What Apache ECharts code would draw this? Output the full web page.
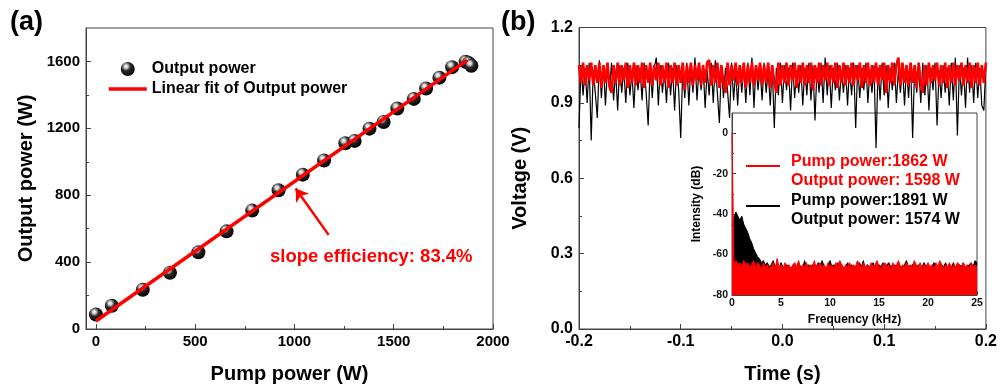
<!DOCTYPE html>
<html>
<head>
<meta charset="utf-8">
<script src="https://cdn.jsdelivr.net/npm/echarts@6/dist/echarts.min.js"></script>
<style>
  html, body { margin: 0; padding: 0; background: #fff; }
  #chart { width: 1000px; height: 389px; }
</style>
</head>
<body>
<div id="chart"></div>
<script>
// (a) output power vs pump power
const pumpPower = [0, 80, 236, 373, 516, 658, 787, 920, 1042, 1149, 1256, 1303, 1378, 1449, 1518, 1601, 1663, 1730, 1794, 1862, 1878, 1891];
const outputPower = [87, 139, 235, 336, 459, 584, 708, 830, 923, 1008, 1111, 1125, 1198, 1238, 1319, 1376, 1438, 1503, 1566, 1598, 1590, 1574];
const fitLine = [[0, 48], [1870, 1608]];
const arrowFrom = [1172, 563];
const arrowTo = [1006, 840];

// (b) voltage trace, one sample every 2 ms from -0.2 s
const timeStart = -0.2;
const timeStep = 0.002;
const voltageBlack = [
  0.80, 1.05, 0.93, 1.04, 0.90, 1.06, 0.75, 1.03, 0.94, 0.84,
  1.07, 0.92, 1.05, 0.89, 1.04, 0.95, 1.06, 0.91, 1.03, 0.87,
  1.05, 0.94, 1.04, 0.90, 1.06, 0.93, 1.02, 0.88, 1.05, 0.95,
  1.04, 0.91, 1.06, 0.94, 0.81, 1.05, 0.92, 1.04, 1.08, 0.89,
  1.05, 0.94, 1.03, 0.90, 1.06, 0.93, 1.04, 0.87, 1.05, 0.95,
  0.76, 1.04, 0.92, 1.06, 0.89, 1.05, 0.94, 1.08, 0.91, 1.04,
  0.95, 1.05, 0.88, 1.03, 0.93, 1.06, 0.90, 1.07, 0.94, 0.82,
  1.05, 0.92, 1.04, 0.95, 0.84, 1.06, 0.91, 1.03, 0.89, 1.05,
  0.94, 1.04, 0.90, 1.06, 0.93, 1.08, 0.88, 1.05, 0.95, 1.04,
  0.91, 1.06, 0.94, 1.03, 0.89, 1.05, 0.80, 1.04, 0.93, 1.06,
  0.90, 1.05, 0.95, 1.04, 0.87, 1.06, 0.92, 1.03, 0.94, 1.05,
  0.89, 1.04, 0.93, 1.06, 0.91, 1.05, 0.83, 1.04, 0.94, 1.06,
  0.90, 1.08, 0.93, 1.05, 0.88, 1.04, 0.95, 1.06, 0.91, 1.03,
  0.94, 1.05, 0.89, 1.04, 0.93, 1.06, 0.80, 1.05, 0.92, 1.04,
  0.95, 1.06, 0.90, 1.03, 0.94, 1.05, 0.72, 1.04, 0.91, 1.06,
  0.93, 1.05, 0.88, 1.04, 0.95, 1.06, 0.90, 1.03, 0.94, 1.05,
  0.89, 1.04, 0.92, 1.06, 0.76, 1.05, 0.94, 1.04, 0.90, 1.06,
  0.93, 1.05, 0.87, 1.04, 0.95, 1.06, 0.81, 1.03, 0.92, 1.05,
  0.94, 1.04, 0.89, 1.06, 0.91, 1.08, 0.77, 1.05, 0.93, 1.04,
  0.88, 1.08, 0.94, 1.05, 0.90, 1.06, 0.92, 1.04, 0.89, 0.87,
  1.05
];
const voltageRed = [
  1.05, 0.98, 1.06, 0.97, 1.05, 0.99, 1.06, 0.97, 1.05, 0.98,
  1.06, 0.96, 1.05, 0.98, 1.06, 0.97, 0.94, 1.05, 0.98, 1.06,
  0.97, 1.05, 0.99, 1.06, 0.96, 1.05, 0.98, 1.06, 0.97, 1.05,
  0.98, 1.06, 0.96, 1.05, 0.98, 1.06, 0.97, 1.05, 0.99, 1.06,
  0.97, 1.05, 0.98, 1.06, 0.96, 1.05, 0.98, 1.06, 0.97, 1.05,
  0.98, 1.06, 0.95, 1.05, 0.98, 1.06, 0.97, 1.05, 0.99, 1.06,
  0.97, 1.05, 0.98, 1.06, 1.07, 0.97, 1.05, 0.98, 1.06, 0.96,
  1.05, 0.98, 0.94, 1.06, 0.97, 1.05, 0.99, 1.06, 0.97, 1.05,
  0.98, 1.06, 0.96, 1.05, 0.98, 1.06, 0.97, 1.05, 0.99, 1.06,
  0.97, 1.05, 0.98, 1.06, 0.96, 1.05, 0.98, 0.94, 1.06, 0.97,
  1.05, 0.98, 1.06, 0.97, 1.05, 0.99, 1.06, 0.96, 1.05, 0.98,
  1.06, 0.97, 1.05, 0.98, 1.06, 0.95, 1.05, 0.98, 1.06, 0.97,
  1.05, 0.99, 1.06, 0.97, 1.05, 0.98, 1.06, 0.96, 1.05, 0.98,
  1.06, 0.97, 1.05, 0.98, 1.06, 0.97, 1.05, 0.99, 1.06, 0.96,
  1.05, 0.98, 1.06, 0.97, 1.05, 0.98, 1.06, 0.97, 1.05, 0.99,
  1.06, 0.94, 1.05, 0.98, 1.06, 0.97, 1.05, 1.08, 0.97, 1.06,
  0.98, 1.05, 0.97, 1.06, 0.98, 1.05, 0.96, 1.06, 0.98, 0.94,
  1.05, 0.97, 1.06, 0.98, 1.05, 0.99, 1.06, 0.97, 1.05, 0.98,
  1.06, 0.96, 1.05, 0.98, 1.06, 0.97, 1.05, 0.99, 1.06, 0.97,
  1.05, 0.98, 1.06, 0.96, 1.05, 0.98, 1.06, 0.97, 1.05, 0.98,
  1.06
];

// (b) inset: spectrum envelope, one point every 0.2 kHz from 0
const freqStep = 0.2;
const spectrumBlack = [
  -46, -42, -39, -41, -43, -41, -45, -47, -49, -52,
  -54, -57, -59, -61, -62, -64, -63, -65, -64, -66,
  -65, -63, -66, -65, -67, -64, -66, -67, -65, -66,
  -66, -67, -65, -66, -64, -66, -67, -63, -66, -65,
  -66, -65, -67, -66, -64, -66, -63, -66, -67, -65,
  -63, -66, -65, -67, -64, -66, -65, -67, -66, -64,
  -66, -65, -67, -66, -65, -64, -66, -63, -67, -65,
  -66, -65, -64, -67, -66, -65, -66, -64, -67, -65,
  -64, -66, -67, -65, -66, -64, -66, -67, -65, -63,
  -66, -67, -65, -64, -66, -65, -67, -66, -64, -66,
  -65, -67, -66, -64, -65, -66, -67, -65, -66, -64,
  -67, -65, -66, -64, -67, -66, -65, -66, -64, -67,
  -66, -65, -64, -66, -63, -64
];
const spectrumRed = [
  0, -64, -63, -65, -64, -66, -63, -65, -64, -66,
  -65, -63, -66, -64, -65, -67, -64, -66, -65, -67,
  -66, -64, -67, -62, -66, -65, -67, -64, -66, -65,
  -67, -65, -64, -66, -63, -67, -65, -66, -64, -67,
  -65, -66, -63, -67, -65, -64, -66, -65, -67, -64,
  -66, -65, -67, -64, -66, -63, -65, -67, -65, -66,
  -64, -67, -65, -66, -63, -65, -67, -64, -66, -65,
  -67, -64, -66, -65, -63, -66, -67, -65, -64, -66,
  -65, -67, -64, -66, -65, -63, -67, -65, -66, -64,
  -66, -65, -67, -63, -65, -66, -64, -67, -65, -66,
  -64, -66, -65, -67, -64, -66, -63, -65, -67, -65,
  -66, -64, -67, -65, -66, -64, -65, -67, -64, -66,
  -65, -67, -64, -66, -65, -66
];

// tick positions
const powerTicksX = [0, 500, 1000, 1500, 2000];
const powerMinorX = [250, 750, 1250, 1750];
const powerTicksY = [0, 400, 800, 1200, 1600];
const powerMinorY = [200, 600, 1000, 1400];
const timeTicks = [-0.2, -0.1, 0, 0.1, 0.2];
const timeMinor = [-0.15, -0.05, 0.05, 0.15];
const voltTicks = [0, 0.3, 0.6, 0.9, 1.2];
const voltMinor = [0.15, 0.45, 0.75, 1.05];
const freqTicks = [0, 5, 10, 15, 20, 25];
const freqMinor = [2.5, 7.5, 12.5, 17.5, 22.5];
const dbTicks = [-80, -60, -40, -20, 0];
const dbMinor = [-70, -50, -30, -10];

const FONT = 'Liberation Sans, Arial, sans-serif';
const AXIS_COLOR = '#444';

const timeData = (vals) => vals.map((v, i) => [timeStart + i * timeStep, v]);
const freqData = (vals) => vals.map((v, i) => [i * freqStep, v]);

function makeAxes(c) {
  const main = {
    type: 'value', gridIndex: c.grid, position: c.pos, min: c.min, max: c.max,
    name: c.name, nameLocation: 'middle', nameGap: c.nameGap,
    nameTextStyle: { fontFamily: FONT, fontWeight: 'bold', fontSize: c.nameSize, color: '#000' },
    axisLine: { show: true, onZero: false, lineStyle: { color: AXIS_COLOR, width: 1 } },
    axisTick: { show: true, inside: true, length: c.tickLen, customValues: c.ticks, lineStyle: { color: AXIS_COLOR } },
    axisLabel: {
      show: true, customValues: c.ticks, margin: c.margin, formatter: c.fmt || ((v) => String(v)),
      fontFamily: FONT, fontWeight: 'bold', fontSize: c.labelSize, color: c.labelColor || '#000',
    },
    splitLine: { show: false },
  };
  const minor = {
    type: 'value', gridIndex: c.grid, position: c.pos, min: c.min, max: c.max,
    axisLine: { show: false, onZero: false },
    axisTick: { show: true, inside: true, length: Math.round(c.tickLen * 0.6), customValues: c.minors, lineStyle: { color: AXIS_COLOR } },
    axisLabel: { show: false },
    splitLine: { show: false },
  };
  return [main, minor];
}

const oneDecimal = (v) => v.toFixed(1);

const xAxes = [
  ...makeAxes({ grid: 0, pos: 'bottom', min: -50, max: 2000, ticks: powerTicksX, minors: powerMinorX,
    name: 'Pump power (W)', nameGap: 35, nameSize: 20, tickLen: 5, margin: 5, labelSize: 15 }),
  ...makeAxes({ grid: 1, pos: 'bottom', min: -0.2, max: 0.2, ticks: timeTicks, minors: timeMinor, fmt: oneDecimal,
    name: 'Time (s)', nameGap: 35, nameSize: 20, tickLen: 5, margin: 5, labelSize: 16 }),
  ...makeAxes({ grid: 2, pos: 'bottom', min: 0, max: 25, ticks: freqTicks, minors: freqMinor,
    name: 'Frequency (kHz)', nameGap: 19, nameSize: 12, tickLen: 4, margin: 3, labelSize: 10.5, labelColor: '#111' }),
];
const yAxes = [
  ...makeAxes({ grid: 0, pos: 'left', min: 0, max: 1800, ticks: powerTicksY, minors: powerMinorY,
    name: 'Output power (W)', nameGap: 50, nameSize: 20, tickLen: 5, margin: 6, labelSize: 15 }),
  ...makeAxes({ grid: 1, pos: 'left', min: 0, max: 1.2, ticks: voltTicks, minors: voltMinor, fmt: oneDecimal,
    name: 'Voltage (V)', nameGap: 49, nameSize: 20, tickLen: 5, margin: 6, labelSize: 16 }),
  ...makeAxes({ grid: 2, pos: 'left', min: -80, max: 10, ticks: dbTicks, minors: dbMinor,
    name: 'Intensity (dB)', nameGap: 29, nameSize: 12, tickLen: 4, margin: 4, labelSize: 10.5, labelColor: '#111' }),
];

const sphere = {
  type: 'radial', x: 0.38, y: 0.32, r: 0.7,
  colorStops: [
    { offset: 0, color: '#ffffff' },
    { offset: 0.18, color: '#cfcfcf' },
    { offset: 0.45, color: '#2a2a2a' },
    { offset: 1, color: '#000000' },
  ],
};

const chart = echarts.init(document.getElementById('chart'));
chart.setOption({
  animation: false,
  backgroundColor: '#fff',
  textStyle: { fontFamily: FONT },
  grid: [
    { left: 86, top: 28, width: 407, height: 303, show: true, borderColor: AXIS_COLOR, borderWidth: 1, backgroundColor: 'transparent' },
    { left: 579, top: 27.5, width: 408, height: 303, show: true, borderColor: AXIS_COLOR, borderWidth: 1, backgroundColor: 'transparent' },
    { left: 732, top: 113, width: 245, height: 182, show: true, borderColor: AXIS_COLOR, borderWidth: 1, backgroundColor: 'transparent' },
  ],
  xAxis: xAxes,
  yAxis: yAxes,
  legend: {
    data: [
      'Output power',
      { name: 'Linear fit of Output power', itemStyle: { opacity: 0 }, lineStyle: { width: 3.5, color: '#ff0000' } },
    ],
    orient: 'vertical', left: 107, top: 61, padding: 0,
    itemWidth: 38, itemHeight: 14, itemGap: 4,
    textStyle: { fontFamily: FONT, fontWeight: 'bold', fontSize: 16, color: '#000' },
  },
  graphic: [
    { type: 'text', x: 10, y: 23, style: { text: '(a)', fontFamily: FONT, fontWeight: 'bold', fontSize: 27, fill: '#000', verticalAlign: 'middle' } },
    { type: 'text', x: 501, y: 23, style: { text: '(b)', fontFamily: FONT, fontWeight: 'bold', fontSize: 27, fill: '#000', verticalAlign: 'middle' } },
    { type: 'text', x: 270, y: 257, style: { text: 'slope efficiency: 83.4%', fontFamily: FONT, fontWeight: 'bold', fontSize: 18.5, fill: '#ff0000', verticalAlign: 'middle' } },
    { type: 'line', shape: { x1: 746, y1: 166, x2: 780, y2: 166 }, style: { stroke: '#ff0000', lineWidth: 2 } },
    { type: 'line', shape: { x1: 746, y1: 206, x2: 780, y2: 206 }, style: { stroke: '#000', lineWidth: 2 } },
    { type: 'text', x: 791, y: 162, style: { text: 'Pump power:1862 W', fontFamily: FONT, fontWeight: 'bold', fontSize: 16, fill: '#ff0000', verticalAlign: 'middle' } },
    { type: 'text', x: 791, y: 181, style: { text: 'Output power: 1598 W', fontFamily: FONT, fontWeight: 'bold', fontSize: 16, fill: '#ff0000', verticalAlign: 'middle' } },
    { type: 'text', x: 791, y: 201, style: { text: 'Pump power:1891 W', fontFamily: FONT, fontWeight: 'bold', fontSize: 16, fill: '#000', verticalAlign: 'middle' } },
    { type: 'text', x: 791, y: 220, style: { text: 'Output power: 1574 W', fontFamily: FONT, fontWeight: 'bold', fontSize: 16, fill: '#000', verticalAlign: 'middle' } },
  ],
  series: [
    {
      name: 'Output power', type: 'scatter', xAxisIndex: 0, yAxisIndex: 0,
      data: pumpPower.map((p, i) => [p, outputPower[i]]),
      symbol: 'circle', symbolSize: 14, z: 2,
      itemStyle: { color: sphere, opacity: 1 },
    },
    {
      name: 'Linear fit of Output power', type: 'line', xAxisIndex: 0, yAxisIndex: 0,
      data: fitLine, symbol: 'none', z: 3,
      lineStyle: { color: '#ff0000', width: 3.5 },
      itemStyle: { color: '#ff0000', opacity: 0 },
      markLine: {
        silent: true, symbol: ['none', 'arrow'], symbolSize: 12,
        lineStyle: { color: '#ff0000', width: 2.5, type: 'solid', opacity: 1 },
        label: { show: false },
        data: [[{ coord: arrowFrom }, { coord: arrowTo }]],
      },
    },
    {
      type: 'line', xAxisIndex: 2, yAxisIndex: 2, data: timeData(voltageBlack),
      symbol: 'none', z: 2, lineStyle: { color: '#000', width: 1.2 },
    },
    {
      type: 'line', xAxisIndex: 2, yAxisIndex: 2, data: timeData(voltageRed),
      symbol: 'none', z: 3, lineStyle: { color: '#ff0000', width: 2.6 },
    },
    {
      type: 'line', xAxisIndex: 4, yAxisIndex: 4, data: freqData(spectrumBlack),
      symbol: 'none', z: 2, lineStyle: { color: '#000', width: 1 },
      areaStyle: { color: '#000', opacity: 1, origin: 'start' },
    },
    {
      type: 'line', xAxisIndex: 4, yAxisIndex: 4, data: freqData(spectrumRed),
      symbol: 'none', z: 3, lineStyle: { color: '#ff0000', width: 1 },
      areaStyle: { color: '#ff0000', opacity: 1, origin: 'start' },
    },
  ],
});
</script>
</body>
</html>
